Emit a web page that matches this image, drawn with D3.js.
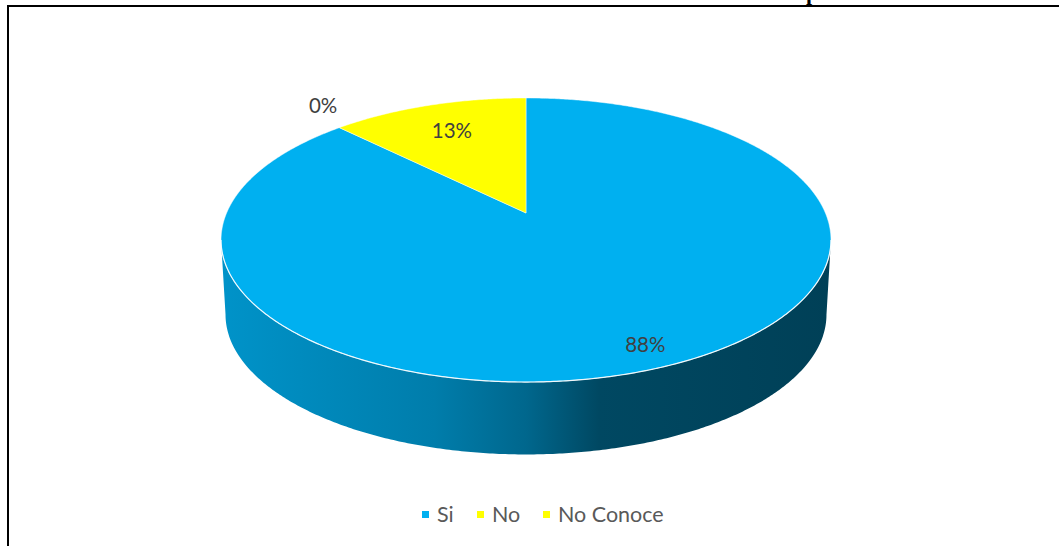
<!DOCTYPE html>
<html>
<head>
<meta charset="utf-8">
<script src="https://cdn.jsdelivr.net/npm/d3@7"></script>
<style>
  html, body { margin: 0; padding: 0; background: #fff; }
  svg { display: block; }
</style>
</head>
<body>
<svg id="chart" width="1059" height="546"></svg>
<script>
// ---- data ----
const categories = ["Si", "No", "No Conoce"];
const values = [87.5, 0, 12.5];
const colors = ["#00B0F0", "#FFFF00", "#FFFF00"];
const titleText = "p";

// ---- layout ----
const W = 1059, H = 546;
const svg = d3.select("#chart");
const X0 = 526, P = 0.1901;
const topDisk = { k: 299.4, m: 136.9, y0: 213 };
const botDisk = { k: 295, m: 134.8, y0: 288 };
const labelRadius = [0.88, 1.1, 0.73];
const labelDy = [0, -14, 0];

function proj(theta, r, d) {
  const u = r * Math.sin(theta), v = r * Math.cos(theta);
  const w = 1 + P * v;
  return [X0 + d.k * u / w, d.y0 - d.m * v / w];
}
function arcPts(a0, a1, d) {
  const n = Math.max(2, Math.ceil(Math.abs(a1 - a0) / (Math.PI / 360)));
  return d3.range(n + 1).map(i => proj(a0 + (a1 - a0) * i / n, 1, d));
}

const total = d3.sum(values);
const pct = d3.format(".0%");
const pie = d3.pie().sort(null).value(d => d.value).startAngle(0).endAngle(2 * Math.PI);
const data = categories.map((c, i) => ({ cat: c, value: values[i], color: colors[i], i }));
const arcs = pie(data);
const line = d3.line();

// frame
svg.append("rect").attr("x", 8).attr("y", 6).attr("width", W + 20).attr("height", H + 20)
  .attr("fill", "none").attr("stroke", "#000").attr("stroke-width", 2);

// title fragment (cut off at top, as in the reference)
svg.append("text").attr("x", 806).attr("y", -0.5)
  .attr("font-family", "Liberation Serif").attr("font-weight", "bold").attr("font-size", 22)
  .attr("fill", "#000").text(titleText);

const defs = svg.append("defs");

// front visible range of the wall
const frontStart = Math.PI / 2 + Math.asin(P);
const frontEnd = 3 * Math.PI / 2 - Math.asin(P);

// side walls
const gStops = [[0, 0.5], [0.35, 0.95], [0.5, 1.5], [0.62, 2.5], [1, 2.85]];
arcs.forEach(a => {
  const s = Math.max(a.startAngle, frontStart), e = Math.min(a.endAngle, frontEnd);
  if (e <= s) return;
  const gid = "side" + a.data.i;
  const g = defs.append("linearGradient").attr("id", gid).attr("gradientUnits", "userSpaceOnUse")
    .attr("x1", X0 - 305).attr("x2", X0 + 305).attr("y1", 0).attr("y2", 0);
  gStops.forEach(([o, k]) => g.append("stop").attr("offset", o).attr("stop-color", d3.color(a.data.color).darker(k).formatHex()));
  const pts = arcPts(s, e, topDisk).concat(arcPts(e, s, botDisk));
  svg.append("path").attr("d", line(pts) + "Z").attr("fill", `url(#${gid})`);
});

// top slices
arcs.forEach(a => {
  if (a.endAngle - a.startAngle <= 0) return;
  const pts = [proj(0, 0, topDisk)].concat(arcPts(a.startAngle, a.endAngle, topDisk));
  svg.append("path").attr("d", line(pts) + "Z").attr("fill", a.data.color)
    .attr("stroke", "#fff").attr("stroke-width", 0.8).attr("stroke-opacity", 0.6)
    .attr("stroke-linejoin", "round");
});

// highlight along front edge of top
svg.append("path").attr("d", line(arcPts(frontStart, frontEnd, topDisk)))
  .attr("fill", "none").attr("stroke", "#fff").attr("stroke-width", 1.2).attr("stroke-opacity", 0.85);

// data labels
arcs.forEach(a => {
  const mid = (a.startAngle + a.endAngle) / 2;
  const [x, y] = proj(mid, labelRadius[a.data.i], topDisk);
  svg.append("text").attr("x", x).attr("y", y + labelDy[a.data.i]).attr("dy", "0.35em")
    .attr("text-anchor", "middle").attr("font-family", "Lato").attr("font-size", 20.5)
    .attr("fill", "#404040").text(pct(a.data.value / total));
});

// legend
const legX = [422, 477, 543];
const leg = svg.append("g");
data.forEach((d, i) => {
  leg.append("rect").attr("x", legX[i]).attr("y", 511).attr("width", 7).attr("height", 7).attr("fill", d.color);
  leg.append("text").attr("x", legX[i] + 15).attr("y", 514.5).attr("dy", "0.35em")
    .attr("font-family", "Lato").attr("font-size", 21.5).attr("fill", "#595959").text(d.cat);
});
</script>
</body>
</html>
